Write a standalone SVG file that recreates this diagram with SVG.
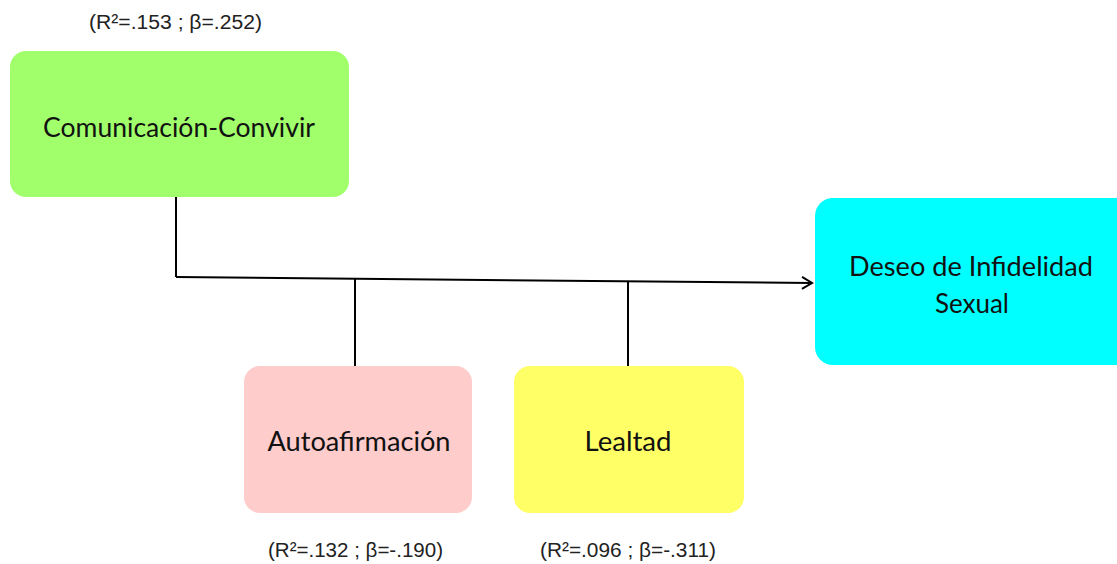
<svg xmlns="http://www.w3.org/2000/svg" width="1117" height="564" viewBox="0 0 1117 564">
<style>
.lbl{font-family:Lato,"Open Sans","Liberation Sans",sans-serif;font-size:27px;fill:#111;text-anchor:middle;dominant-baseline:central}
.st{font-family:"Liberation Sans",Arial,sans-serif;font-size:20px;fill:#222;dominant-baseline:central}
.ln{stroke:#000;stroke-width:2;fill:none}
</style>
<defs>
<marker id="ah" markerWidth="14" markerHeight="14" refX="12" refY="7" orient="auto" markerUnits="userSpaceOnUse">
<path d="M2,1 L12,7 L2,13" fill="none" stroke="#000" stroke-width="2"/>
</marker>
</defs>
<rect width="1117" height="564" fill="#fff"/>
<g id="connectors">
<path class="ln" d="M176,197 V277"/>
<path class="ln" d="M176,277 L812,283" marker-end="url(#ah)"/>
<path class="ln" d="M355,279 V366"/>
<path class="ln" d="M628,281 V366"/>
</g>
<g id="node-comunicacion">
<rect x="10" y="51" width="339" height="146" rx="16" fill="#a0ff6a"/>
<text class="lbl" x="179" y="126" textLength="272" lengthAdjust="spacingAndGlyphs">Comunicación-Convivir</text>
<text class="st" x="89" y="22" textLength="173" lengthAdjust="spacingAndGlyphs">(R²=.153 ; β=.252)</text>
</g>
<g id="node-deseo">
<rect x="815" y="198" width="320" height="167" rx="18" fill="#00ffff"/>
<text class="lbl" x="971" y="265" textLength="244" lengthAdjust="spacingAndGlyphs">Deseo de Infidelidad</text>
<text class="lbl" x="972" y="302" textLength="74" lengthAdjust="spacingAndGlyphs">Sexual</text>
</g>
<g id="node-autoafirmacion">
<rect x="244" y="366" width="228" height="147" rx="16" fill="#ffcccc"/>
<text class="lbl" x="359" y="440" textLength="183" lengthAdjust="spacingAndGlyphs">Autoafirmación</text>
<text class="st" x="268" y="550" textLength="175" lengthAdjust="spacingAndGlyphs">(R²=.132 ; β=-.190)</text>
</g>
<g id="node-lealtad">
<rect x="514" y="366" width="230" height="147" rx="16" fill="#ffff66"/>
<text class="lbl" x="628" y="440" textLength="87" lengthAdjust="spacingAndGlyphs">Lealtad</text>
<text class="st" x="540" y="550" textLength="176" lengthAdjust="spacingAndGlyphs">(R²=.096 ; β=-.311)</text>
</g>
</svg>
